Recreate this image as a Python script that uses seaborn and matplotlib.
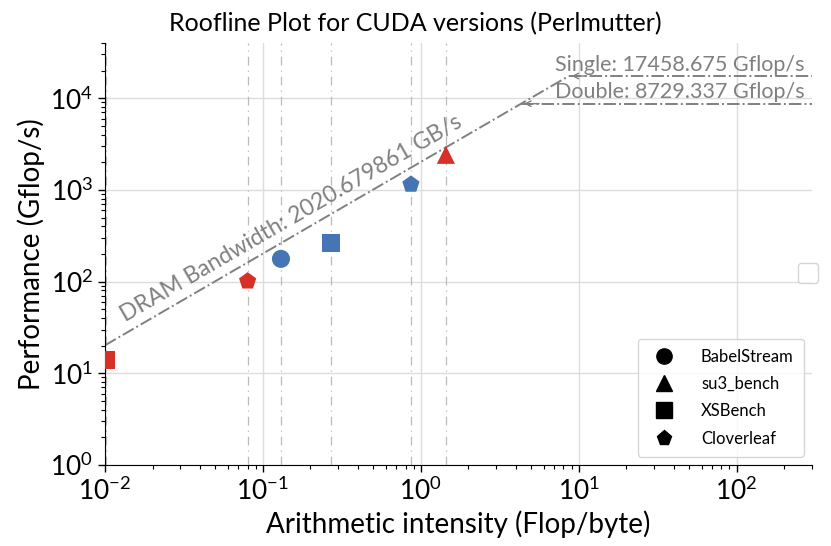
import math

import matplotlib
matplotlib.use("Agg")
import matplotlib.pyplot as plt
import pandas as pd
import seaborn as sns
from matplotlib.lines import Line2D
from matplotlib.transforms import blended_transform_factory

benchmarks = ["XSBench", "Cloverleaf", "BabelStream", "XSBench", "Cloverleaf", "su3_bench"]
intensity = [0.0101, 0.080, 0.130, 0.269, 0.865, 1.44]
performance = [14.1, 101, 177, 265, 1148, 2414]
group = ["red", "red", "blue", "blue", "blue", "red"]

legend_order = ["BabelStream", "su3_bench", "XSBench", "Cloverleaf"]
marker_map = {"BabelStream": "o", "su3_bench": "^", "XSBench": "s", "Cloverleaf": "p"}
palette = {"red": "#d73027", "blue": "#4575b4"}

# machine ceilings
dram_bw = 2020.679861
peak_single = 17458.675
peak_double = 8729.337

x_limits = (1e-2, 300)
y_limits = (1, 4e4)


def main():
    sns.set_style("ticks")
    plt.rcParams["font.family"] = ["Lato", "DejaVu Sans"]
    plt.rcParams.update({
        "text.color": "black",
        "axes.labelcolor": "black",
        "xtick.color": "black",
        "ytick.color": "black",
        "axes.edgecolor": "black",
    })

    df = pd.DataFrame({
        "intensity": intensity,
        "performance": performance,
        "benchmark": benchmarks,
        "group": group,
    })

    fig = plt.figure(figsize=(8.31, 5.46), dpi=100)
    ax = fig.add_axes([0.1264, 0.1484, 0.8508, 0.7728])
    ax.set_xscale("log")
    ax.set_yscale("log")
    ax.set_xlim(*x_limits)
    ax.set_ylim(*y_limits)

    ax.grid(True, which="major", color="#dddddd", linewidth=1.0, zorder=0)
    ax.set_axisbelow(True)

    for x in df["intensity"]:
        ax.axvline(x, color="#bbbbbb", linestyle=(0, (7, 4, 1, 4)),
                   linewidth=0.9, zorder=1)

    # rooflines
    ridge_single = peak_single / dram_bw
    ridge_double = peak_double / dram_bw
    roof_color = "#808080"
    ax.plot([x_limits[0], ridge_single], [dram_bw * x_limits[0], peak_single],
            color=roof_color, linestyle="-.", linewidth=1.4, zorder=2)
    for ridge, peak in [(ridge_single, peak_single), (ridge_double, peak_double)]:
        ax.plot([ridge, x_limits[1]], [peak, peak],
                color=roof_color, linestyle="-.", linewidth=1.4, zorder=2)
        ax.annotate("", xy=(ridge, peak), xytext=(ridge * 1.35, peak),
                    arrowprops=dict(arrowstyle="->", color=roof_color, lw=1.0))

    sns.scatterplot(
        data=df, x="intensity", y="performance",
        hue="group", palette=palette,
        style="benchmark", style_order=legend_order, markers=marker_map,
        s=170, edgecolor="none", legend=False, ax=ax, zorder=3,
    )

    # label along the bandwidth line
    p1 = ax.transData.transform((1e-2, dram_bw * 1e-2))
    p2 = ax.transData.transform((10, dram_bw * 10))
    angle = math.degrees(math.atan2(p2[1] - p1[1], p2[0] - p1[0]))
    x0 = 0.0134
    ax.text(x0, dram_bw * x0 * 1.35, f"DRAM Bandwidth: {dram_bw} GB/s",
            rotation=angle, rotation_mode="anchor", ha="left", va="baseline",
            fontsize=16.5, color=roof_color)

    trans = blended_transform_factory(ax.transAxes, ax.transData)
    ax.text(0.99, peak_single * 1.13, f"Single: {peak_single} Gflop/s",
            transform=trans, ha="right", va="baseline", fontsize=15.5, color=roof_color)
    ax.text(0.99, peak_double * 1.16, f"Double: {peak_double} Gflop/s",
            transform=trans, ha="right", va="baseline", fontsize=15.5, color=roof_color)

    sns.despine(ax=ax)
    ax.tick_params(axis="both", which="major", labelsize=19, length=5, width=1)
    ax.tick_params(axis="both", which="minor", length=3, width=0.8)
    ax.set_xlabel("Arithmetic intensity (Flop/byte)", fontsize=20)
    ax.set_ylabel("Performance (Gflop/s)", fontsize=20)
    fig.suptitle("Roofline Plot for CUDA versions (Perlmutter)", fontsize=18, y=0.978)

    handles = [
        Line2D([], [], marker=marker_map[b], color="black", linestyle="none", markersize=11)
        for b in legend_order
    ]
    leg = ax.legend(handles, legend_order, loc="lower right", fontsize=12,
                    labelspacing=0.68, handletextpad=1.2, borderpad=0.6,
                    frameon=True, edgecolor="#cccccc")
    ax.add_artist(leg)
    # empty second legend at the right edge
    ax.legend(handles=[], labels=[], loc="center", bbox_to_anchor=(0.994, 0.455),
              frameon=True, edgecolor="#cccccc", borderpad=0.7)

    fig.savefig("out.png", dpi=100)


if __name__ == "__main__":
    main()
